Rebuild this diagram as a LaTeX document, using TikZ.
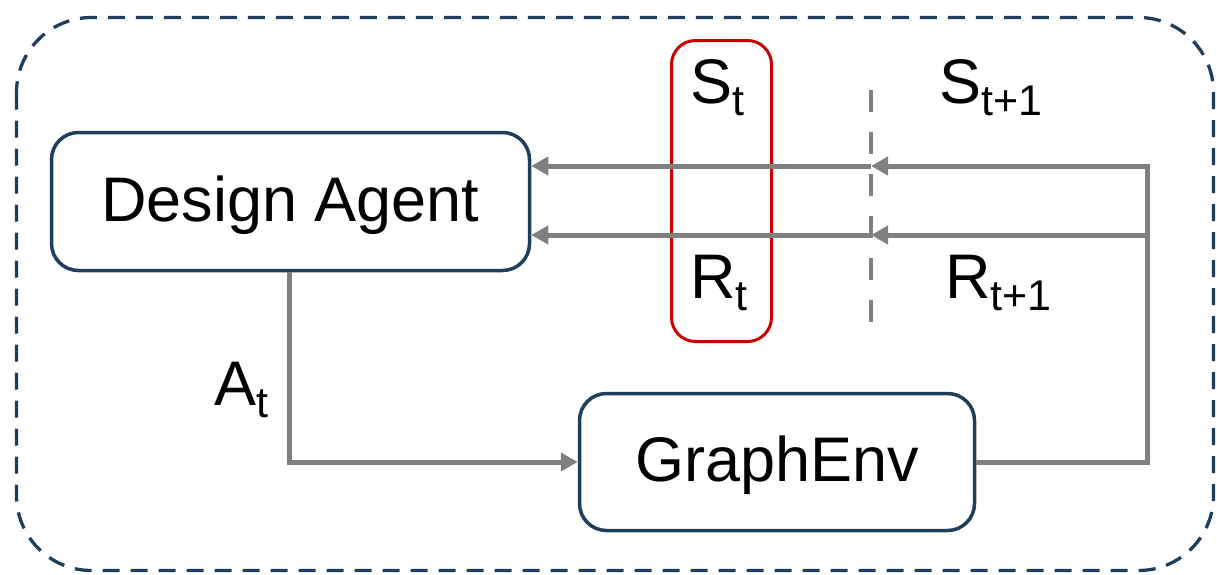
\documentclass[tikz,border=0pt]{standalone}
\usepackage{fontspec}
\setmainfont{Liberation Sans}
\usetikzlibrary{arrows.meta}

\definecolor{navy}{HTML}{1F3E5C}
\definecolor{flowgray}{HTML}{808080}
\definecolor{winred}{HTML}{C80000}

\newcommand{\bigtext}{\fontsize{63}{63}\selectfont}
\newcommand{\lowsub}[1]{\raisebox{-12pt}{\fontsize{43}{43}\selectfont #1}}

\tikzset{
  block/.style={draw=navy, line width=3.5pt, rounded corners=27pt, fill=white,
    inner sep=0pt, text height=52pt, text depth=13pt, font=\bigtext},
  flow/.style={draw=flowgray, line width=5pt, line join=miter},
  tip/.style={-{Triangle[length=17pt,width=18pt]}},
  label/.style={inner sep=0pt, anchor=base west, font=\bigtext},
}

\begin{document}
\begin{tikzpicture}[x=1pt,y=-1pt]
  \useasboundingbox (0,0) rectangle (1217,574);

  % outer dashed frame
  \draw[navy, line width=3.3pt, dash pattern=on 17pt off 11pt, rounded corners=75pt]
    (16.5,17.5) rectangle (1213.5,570.5);

  % main blocks
  \node[block, minimum width=478pt, minimum height=138pt] (agent) at (290.5,201.5) {Design Agent};
  \node[block, minimum width=395pt, minimum height=137pt] (env) at (777,462) {GraphEnv};

  % red window marking the current step
  \node[draw=winred, line width=3pt, rounded corners=24pt, inner sep=0pt,
        minimum width=100pt, minimum height=301pt] (window) at (721.5,191) {};

  % step boundary
  \coordinate (dtop) at (871,90);
  \coordinate (dbot) at (871,323);
  \draw[flowgray, line width=4pt, dash pattern=on 22pt off 20pt] (dtop) -- (dbot);

  % routing points of the feedback loop
  \coordinate (rt) at (1147,166);
  \coordinate (rb) at (1147,235);
  \coordinate (mt) at (871,166);
  \coordinate (mb) at (871,235);
  \coordinate (ad) at (289,462);

  % action: agent -> environment
  \draw[flow, tip] (agent.south -| ad) |- (env.west);

  % state and reward: environment -> agent
  \draw[flow, tip] (env.east) -| (rt) -- (mt);
  \draw[flow, tip] (mt) -- (agent.east |- mt);
  \draw[flow, tip] (rb) -- (mb);
  \draw[flow, tip] (mb) -- (agent.east |- mb);

  % labels
  \node[label] (st)  at (690,103) {S\lowsub{t}};
  \node[label] (st1) at (939,103) {S\lowsub{t+1}};
  \node[label] (rtl) at (690,298) {R\lowsub{t}};
  \node[label] (rt1) at (945,298) {R\lowsub{t+1}};
  \node[label] (at)  at (214,405) {A\lowsub{t}};
\end{tikzpicture}
\end{document}
